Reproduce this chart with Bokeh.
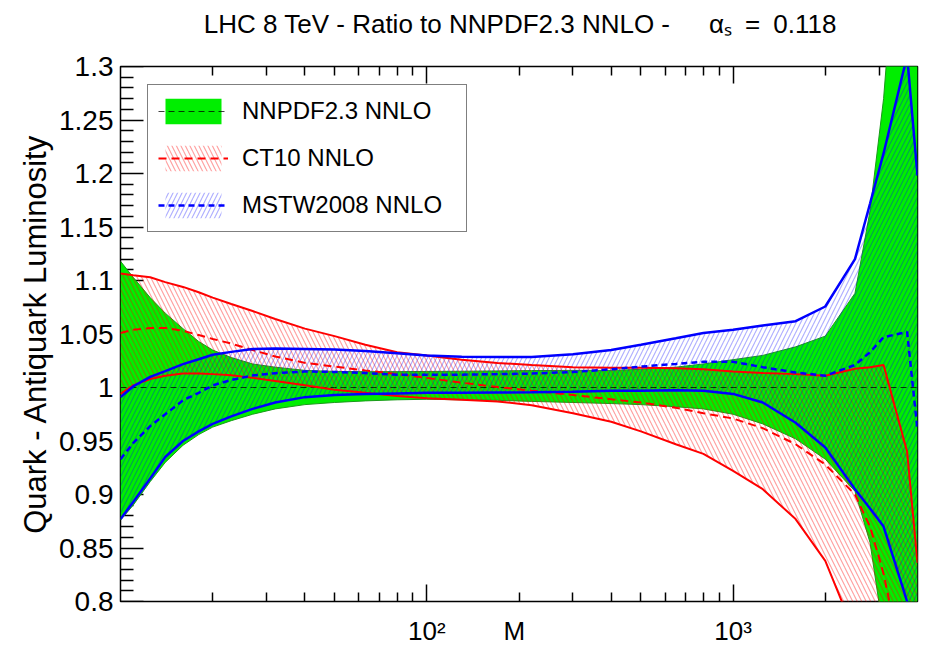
from bokeh.plotting import figure
from bokeh.models import (Range1d, LogAxis, LinearAxis, FixedTicker, Legend, LegendItem,
                          CustomJSTickFormatter, ColumnDataSource)
from bokeh.embed import file_html
from bokeh.resources import INLINE

# ---------------- data ----------------
mass = [10, 11, 12.5, 14, 16, 18, 20, 23, 27, 32, 40, 50, 63, 80, 100, 130, 170, 220, 300, 400,
        500, 650, 800, 1000, 1250, 1600, 2000, 2500, 2800, 3100, 3700, 4000]

nnpdf_up = [1.118, 1.103, 1.084, 1.0695, 1.055, 1.043, 1.035, 1.028, 1.022, 1.019, 1.016, 1.015,
            1.0148, 1.0148, 1.015, 1.0152, 1.0155, 1.0158, 1.016, 1.016, 1.017, 1.019, 1.022, 1.026,
            1.030, 1.038, 1.048, 1.088, 1.165, 1.27, 1.55, 1.6]
nnpdf_dn = [0.876, 0.890, 0.912, 0.930, 0.946, 0.956, 0.963, 0.969, 0.975, 0.980, 0.984, 0.986,
            0.9875, 0.9885, 0.989, 0.9885, 0.988, 0.987, 0.986, 0.985, 0.984, 0.982, 0.980, 0.975,
            0.966, 0.952, 0.933, 0.903, 0.855, 0.77, 0.55, 0.5]
nnpdf_c = [1.0, 1.0, 1.0, 1.0, 1.0, 1.0, 1.0, 1.0, 1.0, 1.0, 1.0, 1.0, 1.0, 1.0, 1.0, 1.0,
           1.0, 1.0, 1.0, 1.0, 1.0, 1.0, 1.0, 1.0, 1.0, 1.0, 1.0, 1.0, 1.0, 1.0, 1.0, 1.0]

ct10_up = [1.1066, 1.105, 1.103, 1.0985, 1.094, 1.089, 1.084, 1.078, 1.0715, 1.064, 1.055, 1.048,
           1.040, 1.033, 1.030, 1.026, 1.023, 1.021, 1.019, 1.0185, 1.0185, 1.018, 1.017, 1.015,
           1.0135, 1.0125, 1.011, 1.0175, 1.019, 1.021, 0.94, 0.836]
ct10_dn = [0.994, 1.002, 1.008, 1.011, 1.013, 1.013, 1.0125, 1.0115, 1.009, 1.006, 1.002, 0.998,
           0.995, 0.992, 0.990, 0.9885, 0.987, 0.9835, 0.976, 0.968, 0.959, 0.947, 0.938, 0.922,
           0.905, 0.877, 0.838, 0.77, 0.72, 0.68, 0.6, 0.55]
ct10_c = [1.051, 1.054, 1.0556, 1.0556, 1.053, 1.049, 1.0454, 1.041, 1.035, 1.029, 1.023, 1.0195,
          1.016, 1.0125, 1.009, 1.0045, 1.0005, 0.997, 0.993, 0.989, 0.986, 0.981, 0.976, 0.971,
          0.962, 0.947, 0.928, 0.900, 0.870, 0.826, 0.72, 0.7]

mstw_up = [0.991, 1.001, 1.010, 1.0153, 1.0218, 1.0264, 1.0306, 1.0333, 1.036, 1.0365, 1.036,
           1.0355, 1.034, 1.032, 1.030, 1.0287, 1.0284, 1.0284, 1.031, 1.035, 1.040, 1.046, 1.051,
           1.054, 1.058, 1.062, 1.0757, 1.12, 1.172, 1.219, 1.31, 1.198]
mstw_dn = [0.877, 0.893, 0.915, 0.935, 0.950, 0.959, 0.966, 0.973, 0.980, 0.986, 0.991, 0.993,
           0.994, 0.9945, 0.995, 0.995, 0.9953, 0.9955, 0.996, 0.997, 0.997, 0.9975, 0.997, 0.994,
           0.986, 0.967, 0.944, 0.905, 0.887, 0.870, 0.80, 0.75]
mstw_c = [0.933, 0.948, 0.964, 0.975, 0.988, 0.995, 1.002, 1.007, 1.0113, 1.0133, 1.015, 1.0145,
          1.0135, 1.012, 1.012, 1.012, 1.0125, 1.013, 1.0145, 1.017, 1.0195, 1.022, 1.024, 1.024,
          1.019, 1.014, 1.011, 1.021, 1.033, 1.047, 1.052, 0.96]

series_labels = ["NNPDF2.3 NNLO", "CT10 NNLO", "MSTW2008 NNLO"]
xtick_vals = [100, 1000]
xminor = [20, 30, 40, 50, 60, 70, 80, 90, 200, 300, 400, 500, 600, 700, 800, 900, 2000, 3000]
xlabel_pos = [100, 193, 1000]
xlabel_txt = ["10\u00b2", "M", "10\u00b3"]
ytick_vals = [0.8, 0.85, 0.9, 0.95, 1.0, 1.05, 1.1, 1.15, 1.2, 1.25, 1.3]
yminor = [round(0.8 + 0.01 * i, 2) for i in range(51) if i % 5 != 0]

title_pos = [202]
title_txt = ["LHC 8 TeV - Ratio to NNPDF2.3 NNLO -\u2003\u2002"
             "\u03b1\u209b\u2002=\u20020.118"]
y_title = "Quark - Antiquark Luminosity"

FONT = "Liberation Sans"
GREEN = "#00ee00"

src = ColumnDataSource(dict(m=mass, nn_up=nnpdf_up, nn_dn=nnpdf_dn, nn_c=nnpdf_c,
                            ct_up=ct10_up, ct_dn=ct10_dn, ct_c=ct10_c,
                            ms_up=mstw_up, ms_dn=mstw_dn, ms_c=mstw_c))

p = figure(width=932, height=648, x_axis_type="log", title=None,
           x_range=Range1d(10, 4000), y_range=Range1d(0.8, 1.3),
           x_axis_location=None, y_axis_location=None,
           output_backend="svg", toolbar_location=None,
           min_border_left=120, min_border_right=15, min_border_top=66, min_border_bottom=43)
p.grid.visible = False
p.outline_line_color = "black"
p.outline_line_width = 1.5
p.background_fill_color = "white"
p.border_fill_color = "white"

# ---------------- axes ----------------
EMPTY = "return '';"
PICK = "const i = vals.indexOf(tick); return i >= 0 ? labs[i] : '';"

def tick_axis(ax, maj, mnr):
    ax.major_tick_in = maj
    ax.major_tick_out = 0
    ax.minor_tick_in = mnr
    ax.minor_tick_out = 0
    ax.major_tick_line_width = 1.5
    ax.minor_tick_line_width = 1.5
    ax.formatter = CustomJSTickFormatter(code=EMPTY)
    ax.major_label_text_font_size = "8px"
    ax.major_label_standoff = 0
    ax.axis_line_color = None
    ax.level = "underlay"
    return ax

def label_axis(ax, size, standoff):
    ax.major_tick_in = 0
    ax.major_tick_out = 0
    ax.minor_tick_in = 0
    ax.minor_tick_out = 0
    ax.axis_line_color = None
    ax.major_label_text_font = FONT
    ax.major_label_text_font_size = size
    ax.major_label_text_color = "black"
    ax.major_label_standoff = standoff
    return ax

x_ticker = FixedTicker(ticks=xtick_vals, minor_ticks=xminor)
y_ticker = FixedTicker(ticks=ytick_vals, minor_ticks=yminor)

p.add_layout(tick_axis(LogAxis(ticker=x_ticker), 17, 9), "below")
p.add_layout(tick_axis(LogAxis(ticker=x_ticker), 17, 9), "above")
p.add_layout(tick_axis(LinearAxis(ticker=y_ticker), 23, 13), "left")

# bottom labels: 10^2, M, 10^3
xlab = LogAxis(ticker=FixedTicker(ticks=xlabel_pos, minor_ticks=[]),
               formatter=CustomJSTickFormatter(args=dict(vals=xlabel_pos, labs=xlabel_txt), code=PICK))
label_axis(xlab, "26px", 14)
p.add_layout(xlab, "below")

# title line drawn as a label on a tick-less top axis
tlab = LogAxis(ticker=FixedTicker(ticks=title_pos, minor_ticks=[]),
               formatter=CustomJSTickFormatter(args=dict(vals=title_pos, labs=title_txt), code=PICK))
label_axis(tlab, "26px", 28)
p.add_layout(tlab, "above")

ylab = LinearAxis(ticker=y_ticker,
                  formatter=CustomJSTickFormatter(code="return String(parseFloat(tick.toFixed(2)));"))
label_axis(ylab, "28px", 7)
ylab.axis_label = y_title
ylab.axis_label_text_font = FONT
ylab.axis_label_text_font_size = "31px"
ylab.axis_label_text_font_style = "normal"
ylab.axis_label_text_color = "black"
ylab.axis_label_standoff = 3
p.add_layout(ylab, "left")

# ---------------- bands and lines ----------------
g_band = p.varea(x="m", y1="nn_dn", y2="nn_up", source=src, fill_color=GREEN, fill_alpha=1)
p.line(x="m", y="nn_up", source=src, line_color="#1a9a1a", line_width=1)
p.line(x="m", y="nn_dn", source=src, line_color="#1a9a1a", line_width=1)

r_band = p.varea(x="m", y1="ct_dn", y2="ct_up", source=src, fill_color=None, fill_alpha=0,
                 hatch_pattern="\\", hatch_color="#ff0000", hatch_alpha=0.38,
                 hatch_scale=9, hatch_weight=1.1)
b_band = p.varea(x="m", y1="ms_dn", y2="ms_up", source=src, fill_color=None, fill_alpha=0,
                 hatch_pattern="/", hatch_color="#0000ff", hatch_alpha=0.32,
                 hatch_scale=9, hatch_weight=1.1)

g_line = p.line(x="m", y="nn_c", source=src, line_color="black", line_alpha=0.75,
                line_width=1, line_dash="6 4")

p.line(x="m", y="ct_up", source=src, line_color="#ff0000", line_width=2)
p.line(x="m", y="ct_dn", source=src, line_color="#ff0000", line_width=2)
r_line = p.line(x="m", y="ct_c", source=src, line_color="#ff0000", line_width=2, line_dash="8 5")

p.line(x="m", y="ms_up", source=src, line_color="#0000ff", line_width=2.5)
p.line(x="m", y="ms_dn", source=src, line_color="#0000ff", line_width=2.5)
b_line = p.line(x="m", y="ms_c", source=src, line_color="#0000ff", line_width=2.5, line_dash="6 4")

# ---------------- legend ----------------
legend = Legend(items=[LegendItem(label=series_labels[0], renderers=[g_band, g_line]),
                       LegendItem(label=series_labels[1], renderers=[r_band, r_line]),
                       LegendItem(label=series_labels[2], renderers=[b_band, b_line])],
                location=(27, 369), margin=0, padding=10, spacing=15,
                glyph_width=70, glyph_height=32, label_height=32, label_width=214,
                label_standoff=14, label_text_font=FONT, label_text_font_size="24px",
                label_text_color="black", label_text_baseline="middle",
                border_line_color="black", border_line_width=1.5,
                background_fill_color="white", background_fill_alpha=1)
p.add_layout(legend)

open("out.html", "w").write(file_html(p, INLINE))
